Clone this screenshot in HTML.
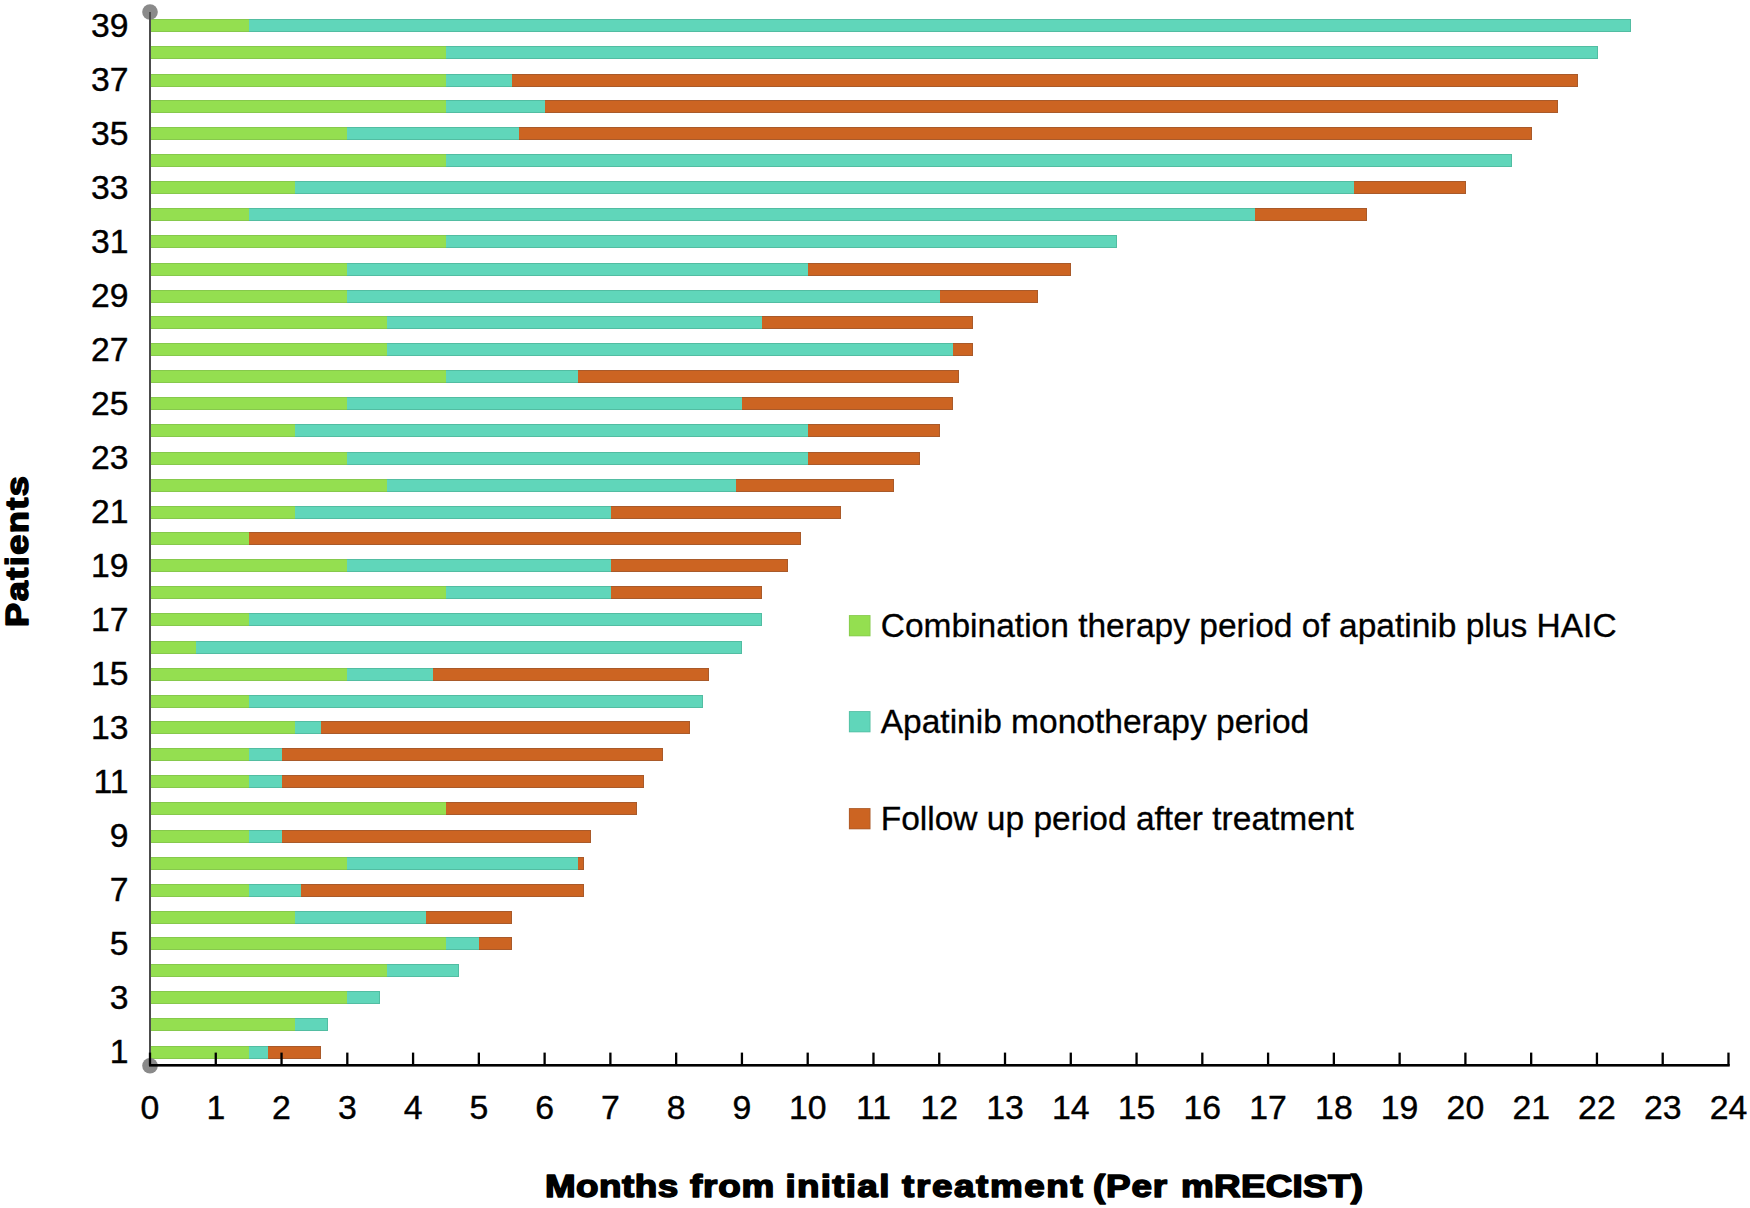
<!DOCTYPE html>
<html lang="en"><head><meta charset="utf-8"><title>Swimmer plot</title>
<style>html,body{margin:0;padding:0;background:#fff}body{width:1750px;height:1208px;overflow:hidden}svg{display:block}text{font-family:"Liberation Sans",sans-serif;fill:#000}.hv{font-weight:bold;stroke:#000;stroke-width:1.5px;stroke-linejoin:round;paint-order:stroke}</style></head><body>
<svg width="1750" height="1208" viewBox="0 0 1750 1208">
<rect width="1750" height="1208" fill="#ffffff"/>
<g shape-rendering="crispEdges">
<rect x="151.0" y="18.7" width="97.7" height="13.0" fill="#86c94c"/>
<rect x="151.0" y="19.7" width="97.7" height="11.0" fill="#94df50"/>
<rect x="248.7" y="18.7" width="1381.8" height="13.0" fill="#52bda2"/>
<rect x="248.7" y="19.7" width="1381.8" height="11.0" fill="#60d6ba"/>
<rect x="1629.5" y="18.7" width="1" height="13.0" fill="#52bda2"/>
<rect x="151.0" y="45.5" width="295.1" height="13.0" fill="#86c94c"/>
<rect x="151.0" y="46.5" width="295.1" height="11.0" fill="#94df50"/>
<rect x="446.1" y="45.5" width="1151.5" height="13.0" fill="#52bda2"/>
<rect x="446.1" y="46.5" width="1151.5" height="11.0" fill="#60d6ba"/>
<rect x="1596.6" y="45.5" width="1" height="13.0" fill="#52bda2"/>
<rect x="151.0" y="73.6" width="295.1" height="13.0" fill="#86c94c"/>
<rect x="151.0" y="74.6" width="295.1" height="11.0" fill="#94df50"/>
<rect x="446.1" y="73.6" width="65.8" height="13.0" fill="#52bda2"/>
<rect x="446.1" y="74.6" width="65.8" height="11.0" fill="#60d6ba"/>
<rect x="511.9" y="73.6" width="1066.0" height="13.0" fill="#a95a2a"/>
<rect x="511.9" y="74.6" width="1066.0" height="11.0" fill="#cc6422"/>
<rect x="1576.9" y="73.6" width="1" height="13.0" fill="#a95a2a"/>
<rect x="151.0" y="100.4" width="295.1" height="13.0" fill="#86c94c"/>
<rect x="151.0" y="101.4" width="295.1" height="11.0" fill="#94df50"/>
<rect x="446.1" y="100.4" width="98.7" height="13.0" fill="#52bda2"/>
<rect x="446.1" y="101.4" width="98.7" height="11.0" fill="#60d6ba"/>
<rect x="544.8" y="100.4" width="1013.3" height="13.0" fill="#a95a2a"/>
<rect x="544.8" y="101.4" width="1013.3" height="11.0" fill="#cc6422"/>
<rect x="1557.1" y="100.4" width="1" height="13.0" fill="#a95a2a"/>
<rect x="151.0" y="127.2" width="196.4" height="13.0" fill="#86c94c"/>
<rect x="151.0" y="128.2" width="196.4" height="11.0" fill="#94df50"/>
<rect x="347.4" y="127.2" width="171.1" height="13.0" fill="#52bda2"/>
<rect x="347.4" y="128.2" width="171.1" height="11.0" fill="#60d6ba"/>
<rect x="518.5" y="127.2" width="1013.3" height="13.0" fill="#a95a2a"/>
<rect x="518.5" y="128.2" width="1013.3" height="11.0" fill="#cc6422"/>
<rect x="1530.8" y="127.2" width="1" height="13.0" fill="#a95a2a"/>
<rect x="151.0" y="154.1" width="295.1" height="13.0" fill="#86c94c"/>
<rect x="151.0" y="155.1" width="295.1" height="11.0" fill="#94df50"/>
<rect x="446.1" y="154.1" width="1066.0" height="13.0" fill="#52bda2"/>
<rect x="446.1" y="155.1" width="1066.0" height="11.0" fill="#60d6ba"/>
<rect x="1511.1" y="154.1" width="1" height="13.0" fill="#52bda2"/>
<rect x="151.0" y="180.9" width="143.8" height="13.0" fill="#86c94c"/>
<rect x="151.0" y="181.9" width="143.8" height="11.0" fill="#94df50"/>
<rect x="294.8" y="180.9" width="1059.4" height="13.0" fill="#52bda2"/>
<rect x="294.8" y="181.9" width="1059.4" height="11.0" fill="#60d6ba"/>
<rect x="1354.1" y="180.9" width="111.9" height="13.0" fill="#a95a2a"/>
<rect x="1354.1" y="181.9" width="111.9" height="11.0" fill="#cc6422"/>
<rect x="1465.0" y="180.9" width="1" height="13.0" fill="#a95a2a"/>
<rect x="151.0" y="207.7" width="97.7" height="13.0" fill="#86c94c"/>
<rect x="151.0" y="208.7" width="97.7" height="11.0" fill="#94df50"/>
<rect x="248.7" y="207.7" width="1006.7" height="13.0" fill="#52bda2"/>
<rect x="248.7" y="208.7" width="1006.7" height="11.0" fill="#60d6ba"/>
<rect x="1255.4" y="207.7" width="111.9" height="13.0" fill="#a95a2a"/>
<rect x="1255.4" y="208.7" width="111.9" height="11.0" fill="#cc6422"/>
<rect x="1366.3" y="207.7" width="1" height="13.0" fill="#a95a2a"/>
<rect x="151.0" y="234.7" width="295.1" height="13.0" fill="#86c94c"/>
<rect x="151.0" y="235.7" width="295.1" height="11.0" fill="#94df50"/>
<rect x="446.1" y="234.7" width="671.2" height="13.0" fill="#52bda2"/>
<rect x="446.1" y="235.7" width="671.2" height="11.0" fill="#60d6ba"/>
<rect x="1116.3" y="234.7" width="1" height="13.0" fill="#52bda2"/>
<rect x="151.0" y="262.6" width="196.4" height="13.0" fill="#86c94c"/>
<rect x="151.0" y="263.6" width="196.4" height="11.0" fill="#94df50"/>
<rect x="347.4" y="262.6" width="460.6" height="13.0" fill="#52bda2"/>
<rect x="347.4" y="263.6" width="460.6" height="11.0" fill="#60d6ba"/>
<rect x="808.0" y="262.6" width="263.2" height="13.0" fill="#a95a2a"/>
<rect x="808.0" y="263.6" width="263.2" height="11.0" fill="#cc6422"/>
<rect x="1070.2" y="262.6" width="1" height="13.0" fill="#a95a2a"/>
<rect x="151.0" y="289.5" width="196.4" height="13.0" fill="#86c94c"/>
<rect x="151.0" y="290.5" width="196.4" height="11.0" fill="#94df50"/>
<rect x="347.4" y="289.5" width="592.2" height="13.0" fill="#52bda2"/>
<rect x="347.4" y="290.5" width="592.2" height="11.0" fill="#60d6ba"/>
<rect x="939.6" y="289.5" width="98.7" height="13.0" fill="#a95a2a"/>
<rect x="939.6" y="290.5" width="98.7" height="11.0" fill="#cc6422"/>
<rect x="1037.3" y="289.5" width="1" height="13.0" fill="#a95a2a"/>
<rect x="151.0" y="316.2" width="235.9" height="13.0" fill="#86c94c"/>
<rect x="151.0" y="317.2" width="235.9" height="11.0" fill="#94df50"/>
<rect x="386.9" y="316.2" width="375.1" height="13.0" fill="#52bda2"/>
<rect x="386.9" y="317.2" width="375.1" height="11.0" fill="#60d6ba"/>
<rect x="761.9" y="316.2" width="210.6" height="13.0" fill="#a95a2a"/>
<rect x="761.9" y="317.2" width="210.6" height="11.0" fill="#cc6422"/>
<rect x="971.5" y="316.2" width="1" height="13.0" fill="#a95a2a"/>
<rect x="151.0" y="343.2" width="235.9" height="13.0" fill="#86c94c"/>
<rect x="151.0" y="344.2" width="235.9" height="11.0" fill="#94df50"/>
<rect x="386.9" y="343.2" width="565.9" height="13.0" fill="#52bda2"/>
<rect x="386.9" y="344.2" width="565.9" height="11.0" fill="#60d6ba"/>
<rect x="952.8" y="343.2" width="19.7" height="13.0" fill="#a95a2a"/>
<rect x="952.8" y="344.2" width="19.7" height="11.0" fill="#cc6422"/>
<rect x="971.5" y="343.2" width="1" height="13.0" fill="#a95a2a"/>
<rect x="151.0" y="370.1" width="295.1" height="13.0" fill="#86c94c"/>
<rect x="151.0" y="371.1" width="295.1" height="11.0" fill="#94df50"/>
<rect x="446.1" y="370.1" width="131.6" height="13.0" fill="#52bda2"/>
<rect x="446.1" y="371.1" width="131.6" height="11.0" fill="#60d6ba"/>
<rect x="577.7" y="370.1" width="381.6" height="13.0" fill="#a95a2a"/>
<rect x="577.7" y="371.1" width="381.6" height="11.0" fill="#cc6422"/>
<rect x="958.3" y="370.1" width="1" height="13.0" fill="#a95a2a"/>
<rect x="151.0" y="396.9" width="196.4" height="13.0" fill="#86c94c"/>
<rect x="151.0" y="397.9" width="196.4" height="11.0" fill="#94df50"/>
<rect x="347.4" y="396.9" width="394.8" height="13.0" fill="#52bda2"/>
<rect x="347.4" y="397.9" width="394.8" height="11.0" fill="#60d6ba"/>
<rect x="742.2" y="396.9" width="210.6" height="13.0" fill="#a95a2a"/>
<rect x="742.2" y="397.9" width="210.6" height="11.0" fill="#cc6422"/>
<rect x="951.8" y="396.9" width="1" height="13.0" fill="#a95a2a"/>
<rect x="151.0" y="424.1" width="143.8" height="13.0" fill="#86c94c"/>
<rect x="151.0" y="425.1" width="143.8" height="11.0" fill="#94df50"/>
<rect x="294.8" y="424.1" width="513.2" height="13.0" fill="#52bda2"/>
<rect x="294.8" y="425.1" width="513.2" height="11.0" fill="#60d6ba"/>
<rect x="808.0" y="424.1" width="131.6" height="13.0" fill="#a95a2a"/>
<rect x="808.0" y="425.1" width="131.6" height="11.0" fill="#cc6422"/>
<rect x="938.6" y="424.1" width="1" height="13.0" fill="#a95a2a"/>
<rect x="151.0" y="451.8" width="196.4" height="13.0" fill="#86c94c"/>
<rect x="151.0" y="452.8" width="196.4" height="11.0" fill="#94df50"/>
<rect x="347.4" y="451.8" width="460.6" height="13.0" fill="#52bda2"/>
<rect x="347.4" y="452.8" width="460.6" height="11.0" fill="#60d6ba"/>
<rect x="808.0" y="451.8" width="111.9" height="13.0" fill="#a95a2a"/>
<rect x="808.0" y="452.8" width="111.9" height="11.0" fill="#cc6422"/>
<rect x="918.9" y="451.8" width="1" height="13.0" fill="#a95a2a"/>
<rect x="151.0" y="478.5" width="235.9" height="13.0" fill="#86c94c"/>
<rect x="151.0" y="479.5" width="235.9" height="11.0" fill="#94df50"/>
<rect x="386.9" y="478.5" width="348.7" height="13.0" fill="#52bda2"/>
<rect x="386.9" y="479.5" width="348.7" height="11.0" fill="#60d6ba"/>
<rect x="735.6" y="478.5" width="157.9" height="13.0" fill="#a95a2a"/>
<rect x="735.6" y="479.5" width="157.9" height="11.0" fill="#cc6422"/>
<rect x="892.5" y="478.5" width="1" height="13.0" fill="#a95a2a"/>
<rect x="151.0" y="505.7" width="143.8" height="13.0" fill="#86c94c"/>
<rect x="151.0" y="506.7" width="143.8" height="11.0" fill="#94df50"/>
<rect x="294.8" y="505.7" width="315.8" height="13.0" fill="#52bda2"/>
<rect x="294.8" y="506.7" width="315.8" height="11.0" fill="#60d6ba"/>
<rect x="610.6" y="505.7" width="230.3" height="13.0" fill="#a95a2a"/>
<rect x="610.6" y="506.7" width="230.3" height="11.0" fill="#cc6422"/>
<rect x="839.9" y="505.7" width="1" height="13.0" fill="#a95a2a"/>
<rect x="151.0" y="532.2" width="97.7" height="13.0" fill="#86c94c"/>
<rect x="151.0" y="533.2" width="97.7" height="11.0" fill="#94df50"/>
<rect x="248.7" y="532.2" width="552.7" height="13.0" fill="#a95a2a"/>
<rect x="248.7" y="533.2" width="552.7" height="11.0" fill="#cc6422"/>
<rect x="800.4" y="532.2" width="1" height="13.0" fill="#a95a2a"/>
<rect x="151.0" y="559.1" width="196.4" height="13.0" fill="#86c94c"/>
<rect x="151.0" y="560.1" width="196.4" height="11.0" fill="#94df50"/>
<rect x="347.4" y="559.1" width="263.2" height="13.0" fill="#52bda2"/>
<rect x="347.4" y="560.1" width="263.2" height="11.0" fill="#60d6ba"/>
<rect x="610.6" y="559.1" width="177.7" height="13.0" fill="#a95a2a"/>
<rect x="610.6" y="560.1" width="177.7" height="11.0" fill="#cc6422"/>
<rect x="787.3" y="559.1" width="1" height="13.0" fill="#a95a2a"/>
<rect x="151.0" y="586.1" width="295.1" height="13.0" fill="#86c94c"/>
<rect x="151.0" y="587.1" width="295.1" height="11.0" fill="#94df50"/>
<rect x="446.1" y="586.1" width="164.5" height="13.0" fill="#52bda2"/>
<rect x="446.1" y="587.1" width="164.5" height="11.0" fill="#60d6ba"/>
<rect x="610.6" y="586.1" width="151.3" height="13.0" fill="#a95a2a"/>
<rect x="610.6" y="587.1" width="151.3" height="11.0" fill="#cc6422"/>
<rect x="760.9" y="586.1" width="1" height="13.0" fill="#a95a2a"/>
<rect x="151.0" y="613.0" width="97.7" height="13.0" fill="#86c94c"/>
<rect x="151.0" y="614.0" width="97.7" height="11.0" fill="#94df50"/>
<rect x="248.7" y="613.0" width="513.2" height="13.0" fill="#52bda2"/>
<rect x="248.7" y="614.0" width="513.2" height="11.0" fill="#60d6ba"/>
<rect x="760.9" y="613.0" width="1" height="13.0" fill="#52bda2"/>
<rect x="151.0" y="640.6" width="45.1" height="13.0" fill="#86c94c"/>
<rect x="151.0" y="641.6" width="45.1" height="11.0" fill="#94df50"/>
<rect x="196.1" y="640.6" width="546.1" height="13.0" fill="#52bda2"/>
<rect x="196.1" y="641.6" width="546.1" height="11.0" fill="#60d6ba"/>
<rect x="741.2" y="640.6" width="1" height="13.0" fill="#52bda2"/>
<rect x="151.0" y="667.8" width="196.4" height="13.0" fill="#86c94c"/>
<rect x="151.0" y="668.8" width="196.4" height="11.0" fill="#94df50"/>
<rect x="347.4" y="667.8" width="85.5" height="13.0" fill="#52bda2"/>
<rect x="347.4" y="668.8" width="85.5" height="11.0" fill="#60d6ba"/>
<rect x="432.9" y="667.8" width="276.4" height="13.0" fill="#a95a2a"/>
<rect x="432.9" y="668.8" width="276.4" height="11.0" fill="#cc6422"/>
<rect x="708.3" y="667.8" width="1" height="13.0" fill="#a95a2a"/>
<rect x="151.0" y="694.8" width="97.7" height="13.0" fill="#86c94c"/>
<rect x="151.0" y="695.8" width="97.7" height="11.0" fill="#94df50"/>
<rect x="248.7" y="694.8" width="454.0" height="13.0" fill="#52bda2"/>
<rect x="248.7" y="695.8" width="454.0" height="11.0" fill="#60d6ba"/>
<rect x="701.7" y="694.8" width="1" height="13.0" fill="#52bda2"/>
<rect x="151.0" y="721.4" width="143.8" height="13.0" fill="#86c94c"/>
<rect x="151.0" y="722.4" width="143.8" height="11.0" fill="#94df50"/>
<rect x="294.8" y="721.4" width="26.3" height="13.0" fill="#52bda2"/>
<rect x="294.8" y="722.4" width="26.3" height="11.0" fill="#60d6ba"/>
<rect x="321.1" y="721.4" width="368.5" height="13.0" fill="#a95a2a"/>
<rect x="321.1" y="722.4" width="368.5" height="11.0" fill="#cc6422"/>
<rect x="688.6" y="721.4" width="1" height="13.0" fill="#a95a2a"/>
<rect x="151.0" y="748.2" width="97.7" height="13.0" fill="#86c94c"/>
<rect x="151.0" y="749.2" width="97.7" height="11.0" fill="#94df50"/>
<rect x="248.7" y="748.2" width="32.9" height="13.0" fill="#52bda2"/>
<rect x="248.7" y="749.2" width="32.9" height="11.0" fill="#60d6ba"/>
<rect x="281.6" y="748.2" width="381.6" height="13.0" fill="#a95a2a"/>
<rect x="281.6" y="749.2" width="381.6" height="11.0" fill="#cc6422"/>
<rect x="662.2" y="748.2" width="1" height="13.0" fill="#a95a2a"/>
<rect x="151.0" y="775.1" width="97.7" height="13.0" fill="#86c94c"/>
<rect x="151.0" y="776.1" width="97.7" height="11.0" fill="#94df50"/>
<rect x="248.7" y="775.1" width="32.9" height="13.0" fill="#52bda2"/>
<rect x="248.7" y="776.1" width="32.9" height="11.0" fill="#60d6ba"/>
<rect x="281.6" y="775.1" width="361.9" height="13.0" fill="#a95a2a"/>
<rect x="281.6" y="776.1" width="361.9" height="11.0" fill="#cc6422"/>
<rect x="642.5" y="775.1" width="1" height="13.0" fill="#a95a2a"/>
<rect x="151.0" y="802.1" width="295.1" height="13.0" fill="#86c94c"/>
<rect x="151.0" y="803.1" width="295.1" height="11.0" fill="#94df50"/>
<rect x="446.1" y="802.1" width="190.8" height="13.0" fill="#a95a2a"/>
<rect x="446.1" y="803.1" width="190.8" height="11.0" fill="#cc6422"/>
<rect x="635.9" y="802.1" width="1" height="13.0" fill="#a95a2a"/>
<rect x="151.0" y="829.6" width="97.7" height="13.0" fill="#86c94c"/>
<rect x="151.0" y="830.6" width="97.7" height="11.0" fill="#94df50"/>
<rect x="248.7" y="829.6" width="32.9" height="13.0" fill="#52bda2"/>
<rect x="248.7" y="830.6" width="32.9" height="11.0" fill="#60d6ba"/>
<rect x="281.6" y="829.6" width="309.3" height="13.0" fill="#a95a2a"/>
<rect x="281.6" y="830.6" width="309.3" height="11.0" fill="#cc6422"/>
<rect x="589.9" y="829.6" width="1" height="13.0" fill="#a95a2a"/>
<rect x="151.0" y="856.9" width="196.4" height="13.0" fill="#86c94c"/>
<rect x="151.0" y="857.9" width="196.4" height="11.0" fill="#94df50"/>
<rect x="347.4" y="856.9" width="230.3" height="13.0" fill="#52bda2"/>
<rect x="347.4" y="857.9" width="230.3" height="11.0" fill="#60d6ba"/>
<rect x="577.7" y="856.9" width="6.6" height="13.0" fill="#a95a2a"/>
<rect x="577.7" y="857.9" width="6.6" height="11.0" fill="#cc6422"/>
<rect x="583.3" y="856.9" width="1" height="13.0" fill="#a95a2a"/>
<rect x="151.0" y="883.7" width="97.7" height="13.0" fill="#86c94c"/>
<rect x="151.0" y="884.7" width="97.7" height="11.0" fill="#94df50"/>
<rect x="248.7" y="883.7" width="52.6" height="13.0" fill="#52bda2"/>
<rect x="248.7" y="884.7" width="52.6" height="11.0" fill="#60d6ba"/>
<rect x="301.3" y="883.7" width="282.9" height="13.0" fill="#a95a2a"/>
<rect x="301.3" y="884.7" width="282.9" height="11.0" fill="#cc6422"/>
<rect x="583.3" y="883.7" width="1" height="13.0" fill="#a95a2a"/>
<rect x="151.0" y="910.7" width="143.8" height="13.0" fill="#86c94c"/>
<rect x="151.0" y="911.7" width="143.8" height="11.0" fill="#94df50"/>
<rect x="294.8" y="910.7" width="131.6" height="13.0" fill="#52bda2"/>
<rect x="294.8" y="911.7" width="131.6" height="11.0" fill="#60d6ba"/>
<rect x="426.4" y="910.7" width="85.5" height="13.0" fill="#a95a2a"/>
<rect x="426.4" y="911.7" width="85.5" height="11.0" fill="#cc6422"/>
<rect x="510.9" y="910.7" width="1" height="13.0" fill="#a95a2a"/>
<rect x="151.0" y="937.4" width="295.1" height="13.0" fill="#86c94c"/>
<rect x="151.0" y="938.4" width="295.1" height="11.0" fill="#94df50"/>
<rect x="446.1" y="937.4" width="32.9" height="13.0" fill="#52bda2"/>
<rect x="446.1" y="938.4" width="32.9" height="11.0" fill="#60d6ba"/>
<rect x="479.0" y="937.4" width="32.9" height="13.0" fill="#a95a2a"/>
<rect x="479.0" y="938.4" width="32.9" height="11.0" fill="#cc6422"/>
<rect x="510.9" y="937.4" width="1" height="13.0" fill="#a95a2a"/>
<rect x="151.0" y="964.2" width="235.9" height="13.0" fill="#86c94c"/>
<rect x="151.0" y="965.2" width="235.9" height="11.0" fill="#94df50"/>
<rect x="386.9" y="964.2" width="72.4" height="13.0" fill="#52bda2"/>
<rect x="386.9" y="965.2" width="72.4" height="11.0" fill="#60d6ba"/>
<rect x="458.3" y="964.2" width="1" height="13.0" fill="#52bda2"/>
<rect x="151.0" y="991.0" width="196.4" height="13.0" fill="#86c94c"/>
<rect x="151.0" y="992.0" width="196.4" height="11.0" fill="#94df50"/>
<rect x="347.4" y="991.0" width="32.9" height="13.0" fill="#52bda2"/>
<rect x="347.4" y="992.0" width="32.9" height="11.0" fill="#60d6ba"/>
<rect x="379.3" y="991.0" width="1" height="13.0" fill="#52bda2"/>
<rect x="151.0" y="1018.1" width="143.8" height="13.0" fill="#86c94c"/>
<rect x="151.0" y="1019.1" width="143.8" height="11.0" fill="#94df50"/>
<rect x="294.8" y="1018.1" width="32.9" height="13.0" fill="#52bda2"/>
<rect x="294.8" y="1019.1" width="32.9" height="11.0" fill="#60d6ba"/>
<rect x="326.7" y="1018.1" width="1" height="13.0" fill="#52bda2"/>
<rect x="151.0" y="1045.8" width="97.7" height="13.0" fill="#86c94c"/>
<rect x="151.0" y="1046.8" width="97.7" height="11.0" fill="#94df50"/>
<rect x="248.7" y="1045.8" width="19.7" height="13.0" fill="#52bda2"/>
<rect x="248.7" y="1046.8" width="19.7" height="11.0" fill="#60d6ba"/>
<rect x="268.4" y="1045.8" width="52.6" height="13.0" fill="#a95a2a"/>
<rect x="268.4" y="1046.8" width="52.6" height="11.0" fill="#cc6422"/>
<rect x="320.1" y="1045.8" width="1" height="13.0" fill="#a95a2a"/>
</g>
<circle cx="150" cy="12" r="7.8" fill="#8a8a8a"/>
<circle cx="150" cy="1065.7" r="7.8" fill="#8a8a8a"/>
<rect x="149.0" y="12" width="2.0" height="1054" fill="#4c4c4c"/>
<rect x="149" y="1064" width="1580.7" height="2.6" fill="#000"/>
<rect x="148.85" y="1052.6" width="2.3" height="13" fill="#000"/>
<rect x="214.62" y="1052.6" width="2.3" height="13" fill="#000"/>
<rect x="280.39" y="1052.6" width="2.3" height="13" fill="#000"/>
<rect x="346.16" y="1052.6" width="2.3" height="13" fill="#000"/>
<rect x="411.93" y="1052.6" width="2.3" height="13" fill="#000"/>
<rect x="477.70" y="1052.6" width="2.3" height="13" fill="#000"/>
<rect x="543.47" y="1052.6" width="2.3" height="13" fill="#000"/>
<rect x="609.24" y="1052.6" width="2.3" height="13" fill="#000"/>
<rect x="675.01" y="1052.6" width="2.3" height="13" fill="#000"/>
<rect x="740.78" y="1052.6" width="2.3" height="13" fill="#000"/>
<rect x="806.55" y="1052.6" width="2.3" height="13" fill="#000"/>
<rect x="872.32" y="1052.6" width="2.3" height="13" fill="#000"/>
<rect x="938.09" y="1052.6" width="2.3" height="13" fill="#000"/>
<rect x="1003.86" y="1052.6" width="2.3" height="13" fill="#000"/>
<rect x="1069.63" y="1052.6" width="2.3" height="13" fill="#000"/>
<rect x="1135.40" y="1052.6" width="2.3" height="13" fill="#000"/>
<rect x="1201.17" y="1052.6" width="2.3" height="13" fill="#000"/>
<rect x="1266.94" y="1052.6" width="2.3" height="13" fill="#000"/>
<rect x="1332.71" y="1052.6" width="2.3" height="13" fill="#000"/>
<rect x="1398.48" y="1052.6" width="2.3" height="13" fill="#000"/>
<rect x="1464.25" y="1052.6" width="2.3" height="13" fill="#000"/>
<rect x="1530.02" y="1052.6" width="2.3" height="13" fill="#000"/>
<rect x="1595.79" y="1052.6" width="2.3" height="13" fill="#000"/>
<rect x="1661.56" y="1052.6" width="2.3" height="13" fill="#000"/>
<rect x="1727.33" y="1052.6" width="2.3" height="13" fill="#000"/>
<text transform="translate(128.5,36.6) scale(1.0,1)" font-size="33.7" text-anchor="end" stroke="#000" stroke-width="0.4">39</text>
<text transform="translate(128.5,90.6) scale(1.0,1)" font-size="33.7" text-anchor="end" stroke="#000" stroke-width="0.4">37</text>
<text transform="translate(128.5,144.6) scale(1.0,1)" font-size="33.7" text-anchor="end" stroke="#000" stroke-width="0.4">35</text>
<text transform="translate(128.5,198.6) scale(1.0,1)" font-size="33.7" text-anchor="end" stroke="#000" stroke-width="0.4">33</text>
<text transform="translate(128.5,252.6) scale(1.0,1)" font-size="33.7" text-anchor="end" stroke="#000" stroke-width="0.4">31</text>
<text transform="translate(128.5,306.6) scale(1.0,1)" font-size="33.7" text-anchor="end" stroke="#000" stroke-width="0.4">29</text>
<text transform="translate(128.5,360.6) scale(1.0,1)" font-size="33.7" text-anchor="end" stroke="#000" stroke-width="0.4">27</text>
<text transform="translate(128.5,414.6) scale(1.0,1)" font-size="33.7" text-anchor="end" stroke="#000" stroke-width="0.4">25</text>
<text transform="translate(128.5,468.6) scale(1.0,1)" font-size="33.7" text-anchor="end" stroke="#000" stroke-width="0.4">23</text>
<text transform="translate(128.5,522.6) scale(1.0,1)" font-size="33.7" text-anchor="end" stroke="#000" stroke-width="0.4">21</text>
<text transform="translate(128.5,576.6) scale(1.0,1)" font-size="33.7" text-anchor="end" stroke="#000" stroke-width="0.4">19</text>
<text transform="translate(128.5,630.6) scale(1.0,1)" font-size="33.7" text-anchor="end" stroke="#000" stroke-width="0.4">17</text>
<text transform="translate(128.5,684.6) scale(1.0,1)" font-size="33.7" text-anchor="end" stroke="#000" stroke-width="0.4">15</text>
<text transform="translate(128.5,738.6) scale(1.0,1)" font-size="33.7" text-anchor="end" stroke="#000" stroke-width="0.4">13</text>
<text transform="translate(128.5,792.6) scale(1.0,1)" font-size="33.7" text-anchor="end" stroke="#000" stroke-width="0.4">11</text>
<text transform="translate(128.5,846.6) scale(1.0,1)" font-size="33.7" text-anchor="end" stroke="#000" stroke-width="0.4">9</text>
<text transform="translate(128.5,900.6) scale(1.0,1)" font-size="33.7" text-anchor="end" stroke="#000" stroke-width="0.4">7</text>
<text transform="translate(128.5,954.6) scale(1.0,1)" font-size="33.7" text-anchor="end" stroke="#000" stroke-width="0.4">5</text>
<text transform="translate(128.5,1008.6) scale(1.0,1)" font-size="33.7" text-anchor="end" stroke="#000" stroke-width="0.4">3</text>
<text transform="translate(128.5,1062.6) scale(1.0,1)" font-size="33.7" text-anchor="end" stroke="#000" stroke-width="0.4">1</text>
<text x="150.0" y="1118.6" font-size="33.8" text-anchor="middle" stroke="#000" stroke-width="0.4">0</text>
<text x="215.8" y="1118.6" font-size="33.8" text-anchor="middle" stroke="#000" stroke-width="0.4">1</text>
<text x="281.5" y="1118.6" font-size="33.8" text-anchor="middle" stroke="#000" stroke-width="0.4">2</text>
<text x="347.3" y="1118.6" font-size="33.8" text-anchor="middle" stroke="#000" stroke-width="0.4">3</text>
<text x="413.1" y="1118.6" font-size="33.8" text-anchor="middle" stroke="#000" stroke-width="0.4">4</text>
<text x="478.8" y="1118.6" font-size="33.8" text-anchor="middle" stroke="#000" stroke-width="0.4">5</text>
<text x="544.6" y="1118.6" font-size="33.8" text-anchor="middle" stroke="#000" stroke-width="0.4">6</text>
<text x="610.4" y="1118.6" font-size="33.8" text-anchor="middle" stroke="#000" stroke-width="0.4">7</text>
<text x="676.2" y="1118.6" font-size="33.8" text-anchor="middle" stroke="#000" stroke-width="0.4">8</text>
<text x="741.9" y="1118.6" font-size="33.8" text-anchor="middle" stroke="#000" stroke-width="0.4">9</text>
<text x="807.7" y="1118.6" font-size="33.8" text-anchor="middle" stroke="#000" stroke-width="0.4">10</text>
<text x="873.5" y="1118.6" font-size="33.8" text-anchor="middle" stroke="#000" stroke-width="0.4">11</text>
<text x="939.2" y="1118.6" font-size="33.8" text-anchor="middle" stroke="#000" stroke-width="0.4">12</text>
<text x="1005.0" y="1118.6" font-size="33.8" text-anchor="middle" stroke="#000" stroke-width="0.4">13</text>
<text x="1070.8" y="1118.6" font-size="33.8" text-anchor="middle" stroke="#000" stroke-width="0.4">14</text>
<text x="1136.5" y="1118.6" font-size="33.8" text-anchor="middle" stroke="#000" stroke-width="0.4">15</text>
<text x="1202.3" y="1118.6" font-size="33.8" text-anchor="middle" stroke="#000" stroke-width="0.4">16</text>
<text x="1268.1" y="1118.6" font-size="33.8" text-anchor="middle" stroke="#000" stroke-width="0.4">17</text>
<text x="1333.9" y="1118.6" font-size="33.8" text-anchor="middle" stroke="#000" stroke-width="0.4">18</text>
<text x="1399.6" y="1118.6" font-size="33.8" text-anchor="middle" stroke="#000" stroke-width="0.4">19</text>
<text x="1465.4" y="1118.6" font-size="33.8" text-anchor="middle" stroke="#000" stroke-width="0.4">20</text>
<text x="1531.2" y="1118.6" font-size="33.8" text-anchor="middle" stroke="#000" stroke-width="0.4">21</text>
<text x="1596.9" y="1118.6" font-size="33.8" text-anchor="middle" stroke="#000" stroke-width="0.4">22</text>
<text x="1662.7" y="1118.6" font-size="33.8" text-anchor="middle" stroke="#000" stroke-width="0.4">23</text>
<text x="1728.5" y="1118.6" font-size="33.8" text-anchor="middle" stroke="#000" stroke-width="0.4">24</text>
<rect x="848.9" y="615.1" width="21.6" height="21.2" fill="#86c94c"/>
<rect x="849.7" y="615.9" width="20" height="19.6" fill="#94df50"/>
<text x="880.7" y="636.6" font-size="33.52" stroke="#000" stroke-width="0.3">Combination therapy period of apatinib plus HAIC</text>
<rect x="848.9" y="711.1" width="21.6" height="21.2" fill="#52bda2"/>
<rect x="849.7" y="711.9" width="20" height="19.6" fill="#60d6ba"/>
<text x="880.7" y="732.6" font-size="33.52" stroke="#000" stroke-width="0.3">Apatinib monotherapy period</text>
<rect x="848.9" y="808.1" width="21.6" height="21.2" fill="#a95a2a"/>
<rect x="849.7" y="808.9" width="20" height="19.6" fill="#cc6422"/>
<text x="880.7" y="829.6" font-size="33.52" stroke="#000" stroke-width="0.3">Follow up period after treatment</text>
<text class="hv" transform="scale(1.18,1)" y="1196.8" font-size="31.2"><tspan x="461.86" textLength="112.88" lengthAdjust="spacing">Months</tspan> <tspan x="584.75" textLength="71.36" lengthAdjust="spacing">from</tspan> <tspan x="665.59" textLength="88.14" lengthAdjust="spacing">initial</tspan> <tspan x="764.49" textLength="153.05" lengthAdjust="spacing">treatment</tspan> <tspan x="926.27" textLength="62.80" lengthAdjust="spacing">(Per</tspan> <tspan x="1000.85" textLength="154.24" lengthAdjust="spacing">mRECIST)</tspan></text>
<text class="hv" transform="translate(28.3,626.9) rotate(-90) scale(1.18,1)" x="0" y="0" font-size="30.6" textLength="127.80" lengthAdjust="spacing">Patients</text>
</svg></body></html>
